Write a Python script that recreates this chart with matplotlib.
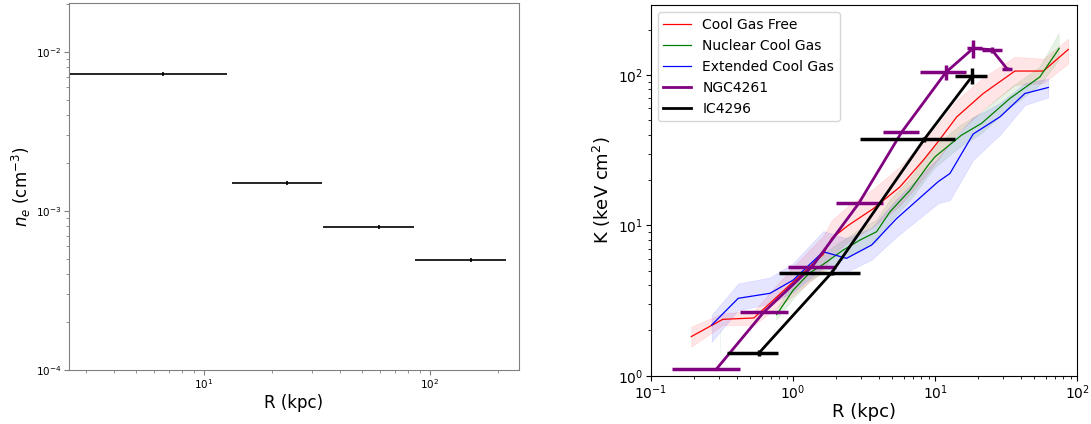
import matplotlib
matplotlib.use("Agg")
import matplotlib.pyplot as plt
import numpy as np

# --- left panel: electron density
ne_r = [6.6, 23.4, 59.7, 152.0]
ne_r_lo = [0.5, 13.3, 33.6, 86.0]
ne_r_hi = [12.7, 33.4, 85.5, 218.0]
ne_val = [7.27e-3, 1.50e-3, 7.97e-4, 4.90e-4]
ne_err = [2.2e-4, 4.5e-5, 2.4e-5, 1.5e-5]

# --- right panel: entropy profiles (sample medians + spread)
cgf_r = [0.192, 0.32, 0.53, 1.0, 1.63, 1.87, 2.45, 3.67, 5.65, 8.25, 10.5, 14.2, 21.8, 36.4, 57.7, 86.5]
cgf_k = [1.82, 2.37, 2.42, 4.2, 6.4, 8.2, 10.0, 12.9, 18.0, 27.1, 36.0, 52.6, 75.2, 106, 106, 147.5]
cgf_lo = [1.56, 2.17, 2.17, 3.4, 5.0, 6.3, 7.8, 9.8, 13.5, 20.5, 27.5, 40.5, 59.0, 85.6, 88.0, 119]
cgf_hi = [2.12, 2.60, 2.70, 5.3, 8.5, 10.8, 13.5, 17.5, 24.5, 36.0, 47.0, 68.0, 96.0, 132, 128, 174]

ncg_r = [0.306, np.nan, 0.767, 1.0, 1.3, 1.63, 2.25, 2.96, 3.87, 4.81, 6.65, 8.93, 9.97, 15.3, 21.2, 33.6, 54.6, 74.6]
ncg_k = [1.7, np.nan, 2.55, 3.7, 4.8, 5.5, 6.84, 7.98, 9.06, 12.3, 17.1, 25.1, 28.5, 39.7, 47.6, 69.7, 97.0, 150]
ncg_lo = [1.42, np.nan, 2.34, 3.2, 4.2, 4.8, 5.9, 6.8, 7.7, 10.4, 14.5, 21.0, 24.0, 33.5, 40.5, 60.0, 85.0, 125]
ncg_hi = [2.01, np.nan, 2.73, 4.2, 5.5, 6.4, 7.9, 9.4, 10.8, 14.6, 20.2, 29.5, 33.5, 46.5, 56.0, 81.0, 112, 188]

ecg_r = [0.267, 0.411, 0.688, 1.0, 1.63, 2.38, 3.57, 5.36, 10.5, 12.7, 18.5, 28.6, 42.8, 62.5]
ecg_k = [2.17, 3.27, 3.53, 4.32, 6.67, 6.03, 7.39, 11.1, 19.5, 22.1, 40.4, 52.6, 75.2, 82.4]
ecg_lo = [1.68, 2.73, 3.0, 3.6, 5.2, 4.9, 5.9, 8.4, 14.0, 14.7, 27.2, 40.0, 63.0, 70.8]
ecg_hi = [2.53, 4.1, 4.5, 5.6, 9.15, 8.2, 9.6, 15.0, 28.0, 35.0, 52.0, 65.0, 88.0, 94.5]

ngc_r = [0.287, 0.62, 1.36, 2.9, 5.8, 11.9, 18.5, 25.0, 32.0]
ngc_r_lo = [0.141, 0.424, 0.927, 1.99, 4.26, 7.76, 16.7, 21.2, 29.4]
ngc_r_hi = [0.426, 0.916, 2.01, 4.26, 7.71, 16.4, 21.2, 29.4, 34.5]
ngc_k = [1.10, 2.64, 5.31, 14.0, 41.5, 104, 150, 147, 110]
ngc_kerr = [0, 0, 0, 0, 0, 12, 20, 7, 3]

ic_r = [0.577, 1.87, 8.38, 18.3]
ic_r_lo = [0.341, 0.80, 2.97, 13.8]
ic_r_hi = [0.789, 2.97, 13.8, 23.1]
ic_k = [1.42, 4.84, 37.3, 98.5]
ic_kerr = [0.07, 0.2, 1.5, 12]

fig = plt.figure(figsize=(10.91, 4.24), dpi=100)

ax1 = fig.add_axes([0.0632, 0.1274, 0.4125, 0.8655])
xe = [np.subtract(ne_r, ne_r_lo), np.subtract(ne_r_hi, ne_r)]
ax1.errorbar(ne_r, ne_val, xerr=xe, yerr=ne_err, fmt="none", ecolor="k", elinewidth=1.2)
ax1.set_xscale("log")
ax1.set_yscale("log")
ax1.set_xlim(2.53, 248)
ax1.set_ylim(1e-4, 0.0203)
ax1.set_xlabel("R (kpc)", fontsize=12, labelpad=2)
ax1.set_ylabel("$n_e$ (cm$^{-3}$)", fontsize=12, labelpad=2)
ax1.tick_params(which="both", labelsize=7.5, color="grey", pad=2)
for sp in ax1.spines.values():
    sp.set_color("grey")

ax2 = fig.add_axes([0.5967, 0.1139, 0.3907, 0.8736])
samples = [
    (cgf_r, cgf_k, cgf_lo, cgf_hi, "red", "Cool Gas Free"),
    (ncg_r, ncg_k, ncg_lo, ncg_hi, "green", "Nuclear Cool Gas"),
    (ecg_r, ecg_k, ecg_lo, ecg_hi, "blue", "Extended Cool Gas"),
]
for r, k, lo, hi, c, lab in samples:
    ax2.plot(r, k, color=c, lw=0.9, label=lab)
    ax2.fill_between(r, lo, hi, color=c, alpha=0.1, lw=0.5)

xe = [np.subtract(ngc_r, ngc_r_lo), np.subtract(ngc_r_hi, ngc_r)]
ax2.plot(ngc_r, ngc_k, "-", color="purple", lw=2, label="NGC4261")
ax2.errorbar(ngc_r, ngc_k, xerr=xe, yerr=ngc_kerr, fmt="none", ecolor="purple", elinewidth=2.5)
xe = [np.subtract(ic_r, ic_r_lo), np.subtract(ic_r_hi, ic_r)]
ax2.plot(ic_r, ic_k, "-", color="black", lw=2, label="IC4296")
ax2.errorbar(ic_r, ic_k, xerr=xe, yerr=ic_kerr, fmt="none", ecolor="black", elinewidth=2.5)

ax2.set_xscale("log")
ax2.set_yscale("log")
ax2.set_xlim(0.1, 100)
ax2.set_ylim(1, 290)
ax2.set_xlabel("R (kpc)", fontsize=13, labelpad=1)
ax2.set_ylabel("K (keV cm$^2$)", fontsize=13)
ax2.tick_params(which="both", labelsize=10, pad=2)
ax2.legend(loc="upper left", fontsize=10)

fig.savefig("out.png", dpi=100)
